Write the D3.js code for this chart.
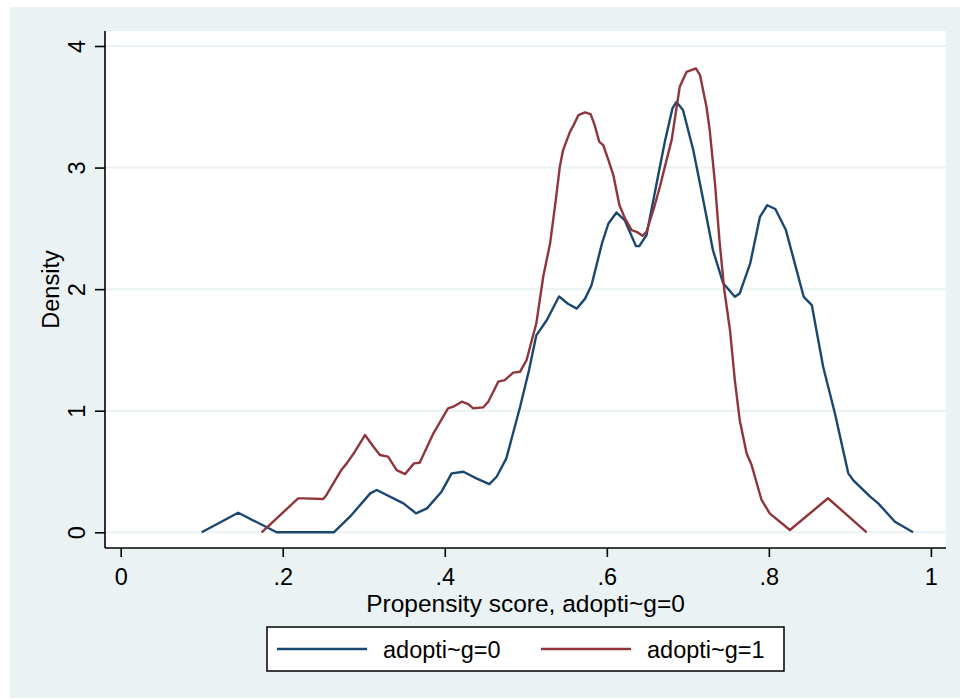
<!DOCTYPE html>
<html>
<head>
<meta charset="utf-8">
<script src="https://cdn.jsdelivr.net/npm/d3@7"></script>
<style>
  body { margin: 0; background: #fff; }
  svg { display: block; font-family: "Liberation Sans", Arial, sans-serif; }
</style>
</head>
<body>
<div id="chart"></div>
<script>
// propensity score grid and density, adopti~g=0
const ps0 = [0.100, 0.145, 0.1925, 0.263, 0.283, 0.308, 0.316, 0.349, 0.3645, 0.378, 0.396, 0.4085, 0.423, 0.439,
    0.455, 0.464, 0.476, 0.493, 0.504, 0.513, 0.526, 0.541, 0.552, 0.563, 0.573, 0.581, 0.594, 0.602, 0.612,
    0.622, 0.636, 0.640, 0.649, 0.6655, 0.672, 0.681, 0.686, 0.694, 0.7067, 0.719, 0.731, 0.7437, 0.758, 0.764,
    0.777, 0.789, 0.798, 0.808, 0.821, 0.832, 0.843, 0.853, 0.867, 0.8815, 0.898, 0.904, 0.925, 0.935, 0.9556, 0.978];
const dens0 = [0, 0.161, 0, 0, 0.128, 0.32, 0.348, 0.238, 0.156, 0.197, 0.334, 0.485, 0.498, 0.444,
    0.397, 0.457, 0.608, 1.033, 1.335, 1.62, 1.746, 1.94, 1.88, 1.84, 1.92, 2.03, 2.376, 2.54, 2.63,
    2.568, 2.354, 2.354, 2.445, 3.007, 3.225, 3.487, 3.54, 3.473, 3.144, 2.733, 2.32, 2.048, 1.937, 1.965,
    2.212, 2.595, 2.69, 2.659, 2.486, 2.212, 1.937, 1.869, 1.362, 0.979, 0.485, 0.43, 0.293, 0.238, 0.087, 0];

// adopti~g=1
const ps1 = [0.174, 0.219, 0.2255, 0.25, 0.254, 0.272, 0.279, 0.289, 0.3015, 0.312, 0.32, 0.330, 0.3406, 0.351,
    0.362, 0.369, 0.386, 0.404, 0.4105, 0.421, 0.429, 0.435, 0.4475, 0.4537, 0.466, 0.474, 0.4845, 0.493, 0.501,
    0.513, 0.5215, 0.53, 0.537, 0.542, 0.546, 0.5545, 0.559, 0.565, 0.573, 0.580, 0.585, 0.5907, 0.5956, 0.602,
    0.608, 0.6155, 0.6224, 0.6306, 0.6368, 0.644, 0.649, 0.658, 0.6655, 0.6696, 0.68, 0.690, 0.6985, 0.710, 0.715,
    0.723, 0.727, 0.7335, 0.739, 0.745, 0.752, 0.758, 0.764, 0.7725, 0.7787, 0.791, 0.801, 0.826, 0.873, 0.9207];
const dens1 = [0, 0.279, 0.279, 0.274, 0.307, 0.51, 0.567, 0.663, 0.8, 0.704, 0.636, 0.622, 0.512, 0.479,
    0.567, 0.572, 0.814, 1.02, 1.033, 1.074, 1.055, 1.02, 1.028, 1.074, 1.239, 1.252, 1.313, 1.321, 1.417,
    1.719, 2.102, 2.377, 2.733, 3.007, 3.144, 3.294, 3.349, 3.432, 3.454, 3.44, 3.349, 3.212, 3.185, 3.062,
    2.938, 2.692, 2.582, 2.486, 2.472, 2.439, 2.472, 2.664, 2.842, 2.952, 3.226, 3.664, 3.788, 3.816, 3.761,
    3.5, 3.308, 2.87, 2.404, 1.993, 1.664, 1.252, 0.924, 0.65, 0.553, 0.266, 0.156, 0.019, 0.28, 0];

const xTicks = [0, 0.2, 0.4, 0.6, 0.8, 1];
const xTickLabels = ['0', '.2', '.4', '.6', '.8', '1'];
const yTicks = [0, 1, 2, 3, 4];
const seriesNames = ['adopti~g=0', 'adopti~g=1'];
const seriesColors = ['#1a476f', '#90353b'];

const W = 960, H = 699;
const plot = {left: 105, top: 31, right: 946, bottom: 548};
const fontSize = 23.5;

const svg = d3.select('#chart').append('svg')
    .attr('width', W)
    .attr('height', H);

// graph region background
svg.append('rect')
    .attr('x', 10).attr('y', 7)
    .attr('width', W - 10).attr('height', 691)
    .attr('fill', '#eaf2f3');

svg.append('rect')
    .attr('x', plot.left).attr('y', plot.top)
    .attr('width', plot.right - plot.left).attr('height', plot.bottom - plot.top)
    .attr('fill', '#fff');

let x = d3.scaleLinear()
    .domain([0, 1])
    .range([120.7, 930.9]);
let y = d3.scaleLinear()
    .domain([0, 4])
    .range([532.3, 46]);

// grid
svg.append('g')
    .attr('id', 'grid')
    .selectAll('line')
    .data(yTicks)
    .join('line')
    .attr('x1', plot.left)
    .attr('x2', plot.right)
    .attr('y1', d => y(d))
    .attr('y2', d => y(d))
    .attr('stroke', '#eaf2f3')
    .attr('stroke-width', 2);

// curves
const line = d3.line()
    .x(d => x(d[0]))
    .y(d => y(d[1]));

const series = [
    d3.zip(ps0, dens0),
    d3.zip(ps1, dens1)
];

svg.append('g')
    .attr('id', 'data')
    .selectAll('path')
    .data(series)
    .join('path')
    .attr('d', line)
    .attr('fill', 'none')
    .attr('stroke', (d, i) => seriesColors[i])
    .attr('stroke-width', 2.4)
    .attr('stroke-linejoin', 'round');

// axes
const xAxis = svg.append('g')
    .attr('id', 'x-axis')
    .attr('transform', `translate(0,${plot.bottom})`)
    .call(d3.axisBottom(x)
        .tickValues(xTicks)
        .tickFormat((d, i) => xTickLabels[i])
        .tickSize(9)
        .tickPadding(11)
        .tickSizeOuter(0));
xAxis.select('.domain')
    .attr('d', `M${plot.left},0H${plot.right}`);

const yAxis = svg.append('g')
    .attr('id', 'y-axis')
    .attr('transform', `translate(${plot.left},0)`)
    .call(d3.axisLeft(y)
        .tickValues(yTicks)
        .tickFormat(d3.format('d'))
        .tickSize(10)
        .tickSizeOuter(0));
yAxis.select('.domain')
    .attr('d', `M0,${plot.top}V${plot.bottom}`);
yAxis.selectAll('.tick text')
    .attr('x', 0)
    .attr('dy', 0)
    .attr('transform', 'translate(-28,0) rotate(-90)')
    .attr('text-anchor', 'middle')
    .attr('dominant-baseline', 'central');

svg.selectAll('.domain, .tick line')
    .attr('stroke', '#000')
    .attr('stroke-width', 1.6);
svg.selectAll('.tick text')
    .attr('font-size', fontSize)
    .attr('fill', '#000');

// axis titles
svg.append('text')
    .attr('x', (plot.left + plot.right) / 2)
    .attr('y', 612)
    .attr('text-anchor', 'middle')
    .attr('font-size', 24.5)
    .text('Propensity score, adopti~g=0');

svg.append('text')
    .attr('transform', `translate(59,${(plot.top + plot.bottom) / 2}) rotate(-90)`)
    .attr('text-anchor', 'middle')
    .attr('font-size', fontSize)
    .text('Density');

// legend
const legend = svg.append('g')
    .attr('id', 'legend');
legend.append('rect')
    .attr('x', 267).attr('y', 627)
    .attr('width', 517).attr('height', 44)
    .attr('fill', '#fff')
    .attr('stroke', '#000')
    .attr('stroke-width', 1.5);

const items = legend.selectAll('.item')
    .data(seriesNames)
    .join('g')
    .attr('class', 'item')
    .attr('transform', (d, i) => `translate(${277 + i * 264},649)`);
items.append('line')
    .attr('x1', 0).attr('x2', 90)
    .attr('stroke', (d, i) => seriesColors[i])
    .attr('stroke-width', 2.4);
items.append('text')
    .attr('x', 106)
    .attr('y', 8.5)
    .attr('font-size', fontSize)
    .text(d => d);
</script>
</body>
</html>
